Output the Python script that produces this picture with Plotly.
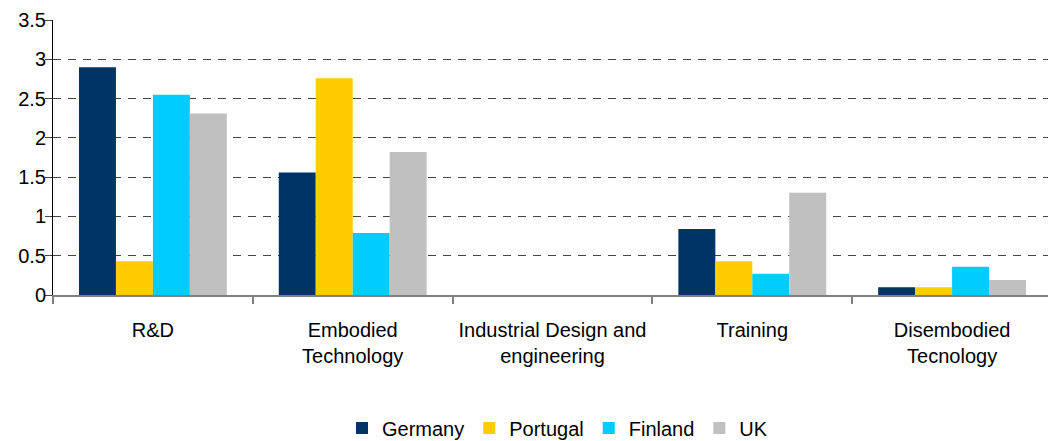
import plotly.graph_objects as go

categories = ["R&D", "Embodied<br>Technology", "Industrial Design and<br>engineering",
              "Training", "Disembodied<br>Tecnology"]
germany = [2.90, 1.56, 0, 0.84, 0.10]
portugal = [0.43, 2.76, 0, 0.43, 0.10]
finland = [2.55, 0.79, 0, 0.27, 0.36]
uk = [2.31, 1.82, 0, 1.30, 0.19]
y_ticks = [0, 0.5, 1, 1.5, 2, 2.5, 3, 3.5]
y_labels = ["0", "0.5", "1", "1.5", "2", "2.5", "3", "3.5"]

series = [("Germany", germany, "#003366"), ("Portugal", portugal, "#FFCC00"),
          ("Finland", finland, "#00CCFF"), ("UK", uk, "#C0C0C0")]

fig = go.Figure()
for name, vals, col in series:
    fig.add_trace(go.Bar(x=categories, y=vals, name=name, marker_color=col,
                         marker_line_width=0))

# page body adds an 8px offset, margins are compensated for it
font = dict(family="Liberation Sans, Arial, sans-serif", size=20, color="#000")
fig.update_layout(
    width=1056, height=441,
    margin=dict(l=45, r=12, t=12, b=154, autoexpand=False),
    plot_bgcolor="white", paper_bgcolor="white",
    barmode="group", bargap=0.26, bargroupgap=0,
    font=font,
    legend=dict(orientation="h", x=0.505, xanchor="center", y=-0.484, yanchor="middle",
                font=font, itemwidth=30, traceorder="normal"),
    xaxis=dict(showline=True, linecolor="#808080", linewidth=2, ticks="outside",
               tickson="boundaries", ticklen=7, tickcolor="#808080", tickwidth=2,
               ticklabelstandoff=16, tickfont=font, showgrid=False, automargin=False),
    yaxis=dict(range=[0, 3.5], tickvals=y_ticks, ticktext=y_labels, showline=True,
               linecolor="#000", linewidth=1, ticks="outside", ticklen=7,
               tickcolor="#444", showgrid=True, gridcolor="#444", griddash="8px,7px",
               gridwidth=1, zeroline=False, tickfont=font, automargin=False,
               ticklabelstandoff=-5),
)

fig.write_html("out.html")
